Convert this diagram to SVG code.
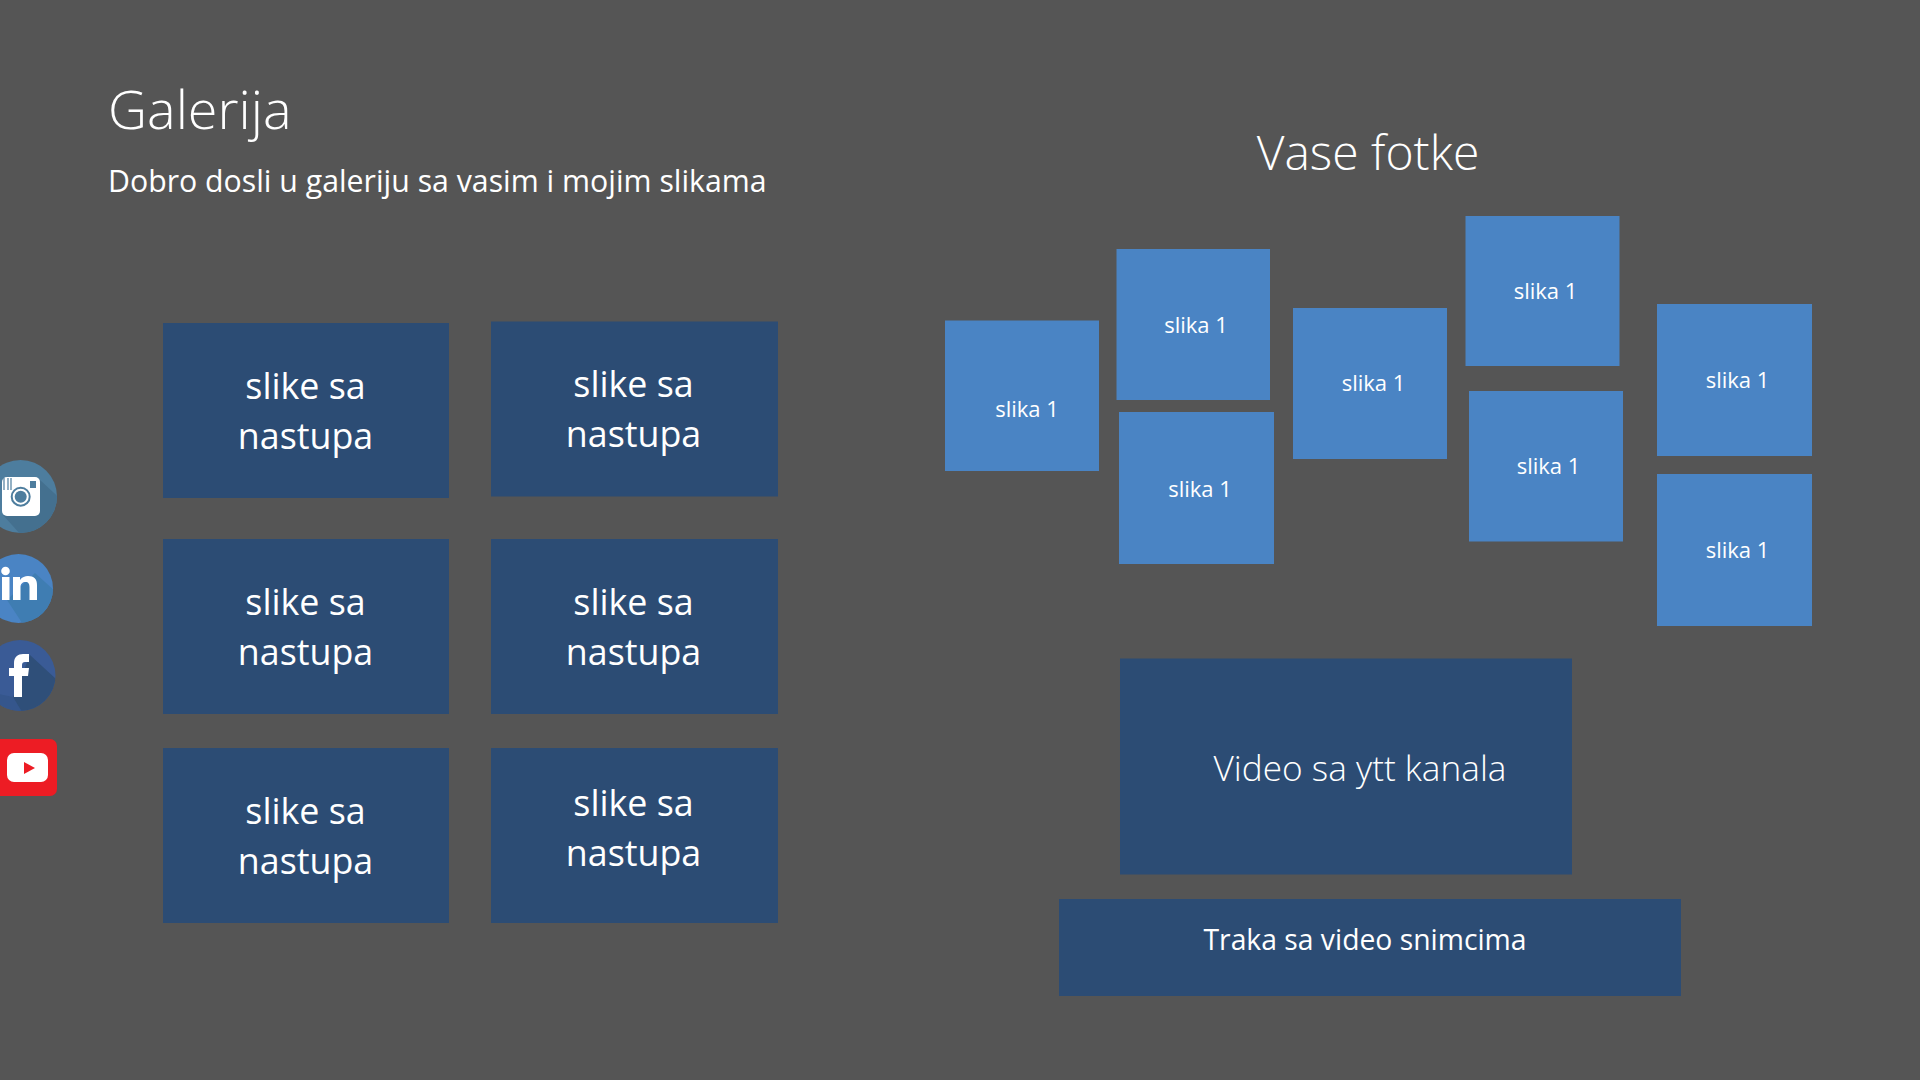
<svg xmlns="http://www.w3.org/2000/svg" width="1920" height="1080" viewBox="0 0 1920 1080">
<defs>
<style>
text{font-family:"Open Sans","Noto Sans","Liberation Sans",sans-serif;fill:#fff}
.l{font-weight:300}
.d{fill:#2c4c74}
.b{fill:#4a84c4}
.m{font-size:35.8px;text-anchor:middle}
.s{font-size:22px;text-anchor:middle}
</style>
<clipPath id="c1"><circle cx="20.5" cy="496.5" r="36.5"/></clipPath>
<clipPath id="c2"><circle cx="18.5" cy="588.5" r="34.5"/></clipPath>
<clipPath id="c3"><circle cx="20" cy="675.5" r="35.5"/></clipPath>
</defs>
<rect width="1920" height="1080" fill="#555"/>
<g id="title"><text class="l" x="108" y="129" font-size="54">Galerija</text></g>
<g id="subtitle"><text x="108" y="192" font-size="30.25">Dobro dosli u galeriju sa vasim i mojim slikama</text></g>
<g id="title2"><text class="l" x="1368" y="170" font-size="48" text-anchor="middle">Vase fotke</text></g>
<g id="g1"><rect class="d" x="163" y="323" width="286" height="175"/><text class="m" x="305.5" y="399">slike sa</text><text class="m" x="305.5" y="449">nastupa</text></g>
<g id="g2"><rect class="d" x="491" y="321.5" width="287" height="175"/><text class="m" x="633.5" y="397">slike sa</text><text class="m" x="633.5" y="447">nastupa</text></g>
<g id="g3"><rect class="d" x="163" y="539" width="286" height="175"/><text class="m" x="305.5" y="615">slike sa</text><text class="m" x="305.5" y="665">nastupa</text></g>
<g id="g4"><rect class="d" x="491" y="539" width="287" height="175"/><text class="m" x="633.5" y="615">slike sa</text><text class="m" x="633.5" y="665">nastupa</text></g>
<g id="g5"><rect class="d" x="163" y="748" width="286" height="175"/><text class="m" x="305.5" y="824">slike sa</text><text class="m" x="305.5" y="874">nastupa</text></g>
<g id="g6"><rect class="d" x="491" y="748" width="287" height="175"/><text class="m" x="633.5" y="816">slike sa</text><text class="m" x="633.5" y="866">nastupa</text></g>
<g id="s1"><rect class="b" x="945" y="320.5" width="154" height="150.5"/><text class="s" x="1027" y="417">slika 1</text></g>
<g id="s2"><rect class="b" x="1116.5" y="249" width="153.5" height="151"/><text class="s" x="1196" y="333">slika 1</text></g>
<g id="s3"><rect class="b" x="1119" y="412" width="155" height="152"/><text class="s" x="1200" y="497">slika 1</text></g>
<g id="s4"><rect class="b" x="1293" y="308" width="154" height="151"/><text class="s" x="1373.500" y="391">slika 1</text></g>
<g id="s5"><rect class="b" x="1465.5" y="216" width="154" height="150"/><text class="s" x="1545.500" y="299">slika 1</text></g>
<g id="s6"><rect class="b" x="1469" y="391" width="154" height="150.5"/><text class="s" x="1548.500" y="474">slika 1</text></g>
<g id="s7"><rect class="b" x="1657" y="304" width="155" height="152"/><text class="s" x="1737.500" y="388">slika 1</text></g>
<g id="s8"><rect class="b" x="1657" y="474" width="155" height="152"/><text class="s" x="1737.500" y="558">slika 1</text></g>
<g id="video"><rect class="d" x="1120" y="658.5" width="452" height="216"/><text class="l" x="1360" y="781" font-size="35.2" text-anchor="middle">Video sa ytt kanala</text></g>
<g id="traka"><rect class="d" x="1059" y="899" width="622" height="97"/><text x="1365" y="949.500" font-size="28.3" text-anchor="middle">Traka sa video snimcima</text></g>
<g id="instagram"><circle cx="20.5" cy="496.5" r="36.5" fill="#4d7d9e"/><path d="M40 480L70 508V545H30L3 515Z" fill="#44708f" clip-path="url(#c1)"/><rect x="2" y="477" width="38" height="39" rx="5" fill="#fff"/><circle cx="20.7" cy="496.7" r="9" fill="none" stroke="#4d7d9e" stroke-width="2"/><circle cx="20.7" cy="496.7" r="6" fill="#4d7d9e"/><rect x="30" y="481" width="6" height="7" fill="#4d7d9e"/><path d="M4 478v12M8 478v12M11 478v12" stroke="#4d7d9e" stroke-width="1.2"/></g>
<g id="linkedin"><circle cx="18.5" cy="588.5" r="34.500" fill="#4a84c4"/><path d="M35 573L65 600V635H30L7 600Z" fill="#3f7db2" clip-path="url(#c2)"/><circle cx="5.5" cy="571" r="4.3" fill="#fff"/><rect x="2" y="577" width="7.5" height="23" fill="#fff"/><path d="M13 577h7v3c2-3 5-4 8-4 6 0 9 3 9 9v15h-7.500v-13c0-3-1-5-4-5s-5 2-5 5v13H13Z" fill="#fff"/></g>
<g id="facebook"><circle cx="20" cy="675.5" r="35.5" fill="#3a5b96"/><path d="M-20 690L13 697L28 715H-20Z" fill="#35568c" clip-path="url(#c3)"/><path d="M30 655L70 692V725H30L13 697Z" fill="#2f4f79" clip-path="url(#c3)"/><path d="M14 697V676H9v-8h5v-5c0-6 4-9 9-9h6v8h-4c-2 0-3 1-3 3v3h7l-1 8h-6v21Z" fill="#fff"/></g>
<g id="youtube"><rect x="-14" y="739" width="71" height="57" rx="7" fill="#ed1c24"/><rect x="7" y="753" width="41" height="29" rx="7" fill="#fff"/><path d="M24 762l11 6-11 6Z" fill="#ed1c24"/></g>
</svg>
